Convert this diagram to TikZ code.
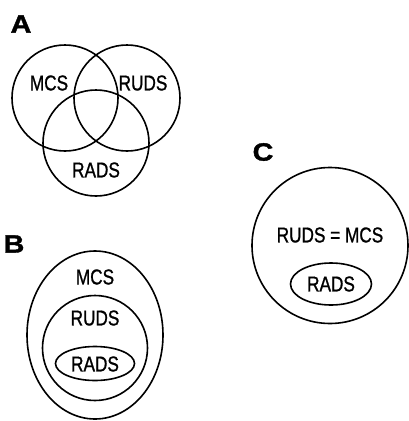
\documentclass[tikz,border=0pt]{standalone}
\usepackage{fontspec}
\setmainfont{Liberation Sans}[FakeStretch=0.8,FakeBold=1.0]
\newfontfamily\panelfont{Liberation Sans}[FakeStretch=1.15,FakeBold=1.5]
\usetikzlibrary{shapes.geometric}
\begin{document}
\begin{tikzpicture}[x=1pt,y=-1pt,
  ring/.style={draw=black,line width=1.6pt},
  lbl/.style={font=\fontsize{21.5}{21.5}\selectfont,inner sep=0pt},
  panel/.style={font=\panelfont\bfseries\fontsize{25}{25}\selectfont,inner sep=0pt}]
\useasboundingbox (0,0) rectangle (409,421);
% Panel A
\node[panel] (la) at (21,24) {A};
\draw[ring] (65,98) circle (53);
\draw[ring] (127,98) circle (53);
\draw[ring] (96,143) circle (53);
\node[lbl] (amcs) at (49,83) {MCS};
\node[lbl] (aruds) at (143,83) {RUDS};
\node[lbl] (arads) at (96,170) {RADS};
% Panel B
\node[panel] (lb) at (14,244) {B};
\draw[ring] (95,335) ellipse (68 and 84);
\draw[ring] (95,348) circle (52.5);
\draw[ring] (95,363.5) ellipse (39.5 and 17);
\node[lbl] (bmcs) at (95,277) {MCS};
\node[lbl] (bruds) at (95,318) {RUDS};
\node[lbl] (brads) at (95,364) {RADS};
% Panel C
\node[panel] (lc) at (263,152) {C};
\draw[ring] (330,245.5) circle (78);
\draw[ring] (331,284) ellipse (40.5 and 21);
\node[lbl] (ceq) at (330,235) {RUDS = MCS};
\node[lbl] (crads) at (331,284) {RADS};
\end{tikzpicture}
\end{document}
